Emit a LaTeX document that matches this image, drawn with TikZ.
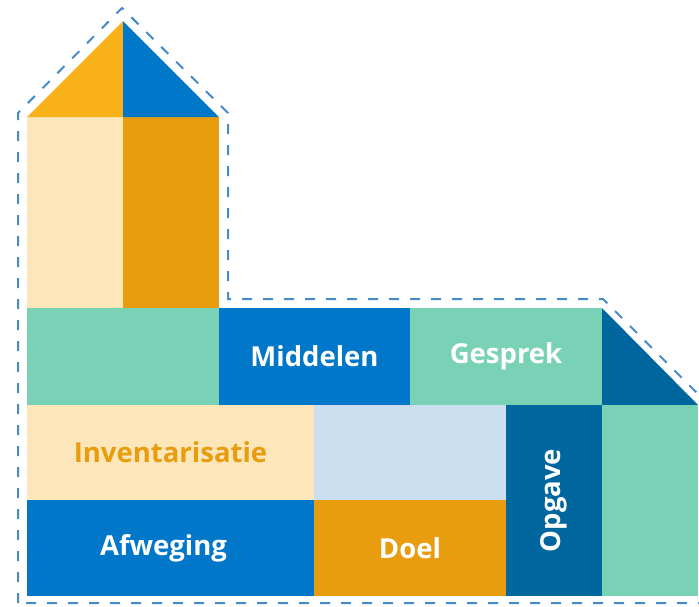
\documentclass[tikz,border=0pt]{standalone}
\usepackage{fontspec}
\setmainfont{Open Sans}
\definecolor{cRoofO}{HTML}{F9B11A}
\definecolor{cBlue}{HTML}{0077C8}
\definecolor{cBeige}{HTML}{FDE6BA}
\definecolor{cOrange}{HTML}{E89D0E}
\definecolor{cTeal}{HTML}{7AD2B6}
\definecolor{cDark}{HTML}{00669E}
\definecolor{cGray}{HTML}{CCDFEF}
\definecolor{cDash}{HTML}{458BC9}
\begin{document}
\begin{tikzpicture}[x=1pt,y=-1pt,
  blk/.style={draw=none,inner sep=0pt,outer sep=0pt,font=\bfseries\fontsize{27.5}{30}\selectfont},
  outline/.style={draw=cDash,line width=2pt,dash pattern=on 10pt off 11pt}]
\useasboundingbox (0,0) rectangle (699,606);
\clip (0,0) rectangle (699,606);
% tower
\fill[cBeige] (27,117) rectangle (123,308);
\fill[cOrange] (123,117) rectangle (219,308);
\fill[cRoofO] (27,117) -- (123,21) -- (123,117) -- cycle;
\fill[cBlue] (123,21) -- (219,117) -- (123,117) -- cycle;
% row 1
\node[blk,fill=cTeal,minimum width=192pt,minimum height=97pt] (r1a) at (123,356.5) {};
\node[blk,fill=cBlue,text=white,minimum width=191pt,minimum height=97pt] (mid) at (314.5,356.5) {Middelen};
\node[blk,fill=cTeal,text=white,minimum width=192pt,minimum height=97pt] (ges) at (506,356.5) {Gesprek};
\fill[cDark] (602,308) -- (698,405) -- (602,405) -- cycle;
% row 2
\node[blk,fill=cBeige,text=cOrange,minimum width=287pt,minimum height=95pt] (inv) at (170.5,452.5) {Inventarisatie};
\node[blk,fill=cGray,minimum width=192pt,minimum height=95pt] (gray) at (410,452.5) {};
\node[blk,fill=cDark,text=white,minimum width=96pt,minimum height=191pt] (opg) at (554,500.5) {};
\node[font=\bfseries\fontsize{27.5}{30}\selectfont,text=white,rotate=90] (opgt) at (opg.center) {Opgave};
\node[blk,fill=cTeal,minimum width=96pt,minimum height=191pt] (rt) at (650,500.5) {};
% row 3
\node[blk,fill=cBlue,text=white,minimum width=287pt,minimum height=96pt] (afw) at (170.5,548) {\hspace*{-14pt}Afweging};
\node[blk,fill=cOrange,text=white,minimum width=192pt,minimum height=96pt] (doel) at (410,548) {Doel};
% dashed outline
\draw[outline] (18,603) -- (18,113) -- (122,8) -- (228,113) -- (228,299) -- (603,299) -- (712,408) -- (712,603) -- cycle;
\end{tikzpicture}
\end{document}
